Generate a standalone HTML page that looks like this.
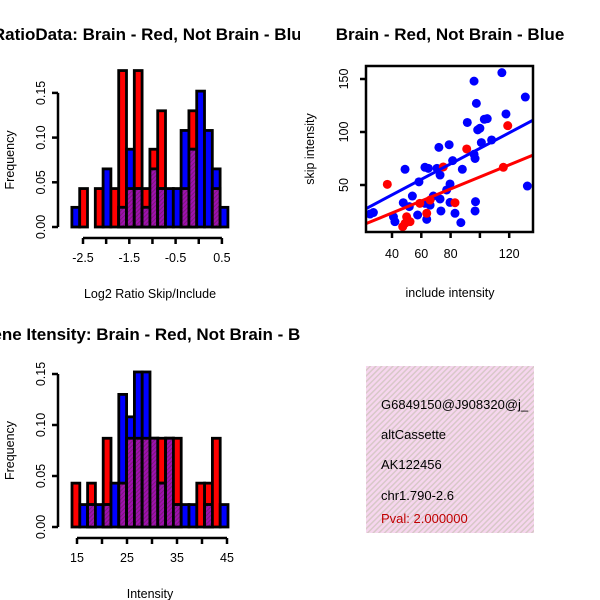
<!DOCTYPE html>
<html><head><meta charset="utf-8"><style>
html,body{margin:0;padding:0;background:#fff;}
svg{display:block;font-family:"Liberation Sans",sans-serif;}
</style></head><body>
<svg id="c" width="600" height="600" viewBox="0 0 600 600">
<defs>
<pattern id="hatch" patternUnits="userSpaceOnUse" width="4" height="4" patternTransform="rotate(45)">
<rect width="4" height="4" fill="#f6d6ee"/><rect width="1.5" height="4" fill="#d8c8c8"/></pattern>
<pattern id="ph" patternUnits="userSpaceOnUse" width="3" height="3" patternTransform="rotate(45)">
<rect width="3" height="3" fill="#a010b0"/><rect width="1" height="3" fill="#7a1a7a"/></pattern>
<clipPath id="cl"><rect x="0" y="0" width="300" height="600"/></clipPath>
<clipPath id="cs"><rect x="366" y="66" width="167" height="166"/></clipPath>
<clipPath id="cb"><rect x="366" y="366" width="168" height="167"/></clipPath>
</defs>
<g id="g1" clip-path="url(#cl)"></g>
<g id="g2"></g>
<g id="g3" clip-path="url(#cl)"></g>
<g id="g4"></g>
</svg>
<script>
// Top-left histogram (log2 ratio)
const ratioBinStart = -2.74, ratioBinWidth = 0.1685;
const ratioRed  = [0,0.043,0,0.043,0,0.043,0.175,0.043,0.175,0.043,0.087,0.13,0,0,0.043,0.13,0,0,0.043,0];
const ratioBlue = [0.022,0,0,0,0.065,0,0.022,0.087,0.043,0.022,0.065,0.043,0.043,0.043,0.108,0.087,0.152,0.108,0.065,0.022];
const ratioXTicks = [-2.5,-2,-1.5,-1,-0.5,0,0.5];
const ratioXLabels = ["-2.5","","-1.5","","-0.5","","0.5"];
const freqTicks = [0,0.05,0.10,0.15];
const freqLabels = ["0.00","0.05","0.10","0.15"];
// Bottom-left histogram (intensity)
const intBinStart = 14, intBinWidth = 1.56;
const intRed  = [0.043,0,0.043,0,0.087,0,0.043,0.087,0.087,0.087,0.087,0.087,0.087,0.087,0,0,0.043,0.043,0.087,0];
const intBlue = [0,0.022,0.022,0.022,0.022,0.043,0.13,0.108,0.152,0.152,0.087,0.043,0.087,0.022,0.022,0.022,0,0.022,0,0.022];
const intXTicks = [15,20,25,30,35,40,45];
const intXLabels = ["15","","25","","35","","45"];
// Scatter
const blueX = [115,96,131,97.6,117.8,91.4,103,105,98.5,100,79,72,101,108,96,96.7,81.4,48.9,62.5,64.8,70.7,72.8,88,58.4,79.6,77.3,53.9,47.7,68.2,72.8,66,79.6,97,96.7,132.4,27.3,25,41,42,57.5,63.7,83,87,73.4,51.8,62.5];
const blueY = [156,148,133,127,117,109,112,112.6,102,103.5,88,85.5,90,92.5,79,75,73,64.8,66.7,65.7,65.7,59.4,64.8,53,51,45.3,39.6,33.3,39.6,36.8,31,33.6,34.3,25.5,49,24,22.6,20,15.4,21.7,17.6,23.3,14.5,25.5,29.6,32.7];
const redX = [119,91,75,36.8,116,83,48.9,50,52.3,63.7,59,66,47.3];
const redY = [106,84,67,50.6,66.7,33.3,13.8,20,15.4,23.3,32.7,35.8,10.7];
const blueFit = [11.4,0.732]; // intercept, slope
const redFit = [0.9,0.567];
const scXTicks = [40,60,80,100,120];
const scXLabels = ["40","60","80","","120"];
const scYTicks = [50,100,150];

const NS="http://www.w3.org/2000/svg";
function mk(parent,tag,attrs,text){const e=document.createElementNS(NS,tag);for(const k in attrs)e.setAttribute(k,attrs[k]);if(text!==undefined)e.textContent=text;parent.appendChild(e);return e;}

function hist(g,binStart,binW,red,blue,xs,ys,xTicks,xLabels,title,xlab,prefix){
  const X=v=>xs.p0+(v-xs.v0)*xs.k, Y=v=>ys.p0-(v)*ys.k;
  for(let i=0;i<red.length;i++){
    const x0=X(binStart+i*binW), x1=X(binStart+(i+1)*binW);
    if(red[i]>0){const r=mk(g,'rect',{x:x0,y:Y(red[i]),width:x1-x0,height:Y(0)-Y(red[i]),fill:'#ff0000',stroke:'#000','stroke-width':2.8});
      
      }
    if(blue[i]>0){const b=mk(g,'rect',{x:x0,y:Y(blue[i]),width:x1-x0,height:Y(0)-Y(blue[i]),fill:'#0000ff',stroke:'#000','stroke-width':2.8});
      
      }
    const m=Math.min(red[i],blue[i]);
    if(m>0){const p=mk(g,'rect',{x:x0,y:Y(m),width:x1-x0,height:Y(0)-Y(m),fill:'url(#ph)',stroke:'#000','stroke-width':2.8});
      
      }
  }
  const ya=mk(g,'g',{});
  
  
  const ax=58;
  mk(ya,'line',{x1:ax,x2:ax,y1:Y(freqTicks[0]),y2:Y(freqTicks[freqTicks.length-1]),stroke:'#000','stroke-width':2.5});
  freqTicks.forEach((t,i)=>{mk(ya,'line',{x1:ax-6,x2:ax,y1:Y(t),y2:Y(t),stroke:'#000','stroke-width':2.5});
    mk(ya,'text',{x:0,y:0,'font-size':12.5,'text-anchor':'middle',transform:`translate(${ax-13},${Y(t)}) rotate(-90)`},freqLabels[i]);});
  const yl=mk(g,'text',{x:0,y:0,'font-size':12.5,'text-anchor':'middle',transform:`translate(14,${(Y(0)+Y(0.15))/2}) rotate(-90)`},'Frequency');
  
  
  const xa=mk(g,'g',{});
  
  
  const ay=ys.p0+11;
  mk(xa,'line',{x1:X(xTicks[0]),x2:X(xTicks[xTicks.length-1]),y1:ay,y2:ay,stroke:'#000','stroke-width':2.5});
  xTicks.forEach((t,i)=>{mk(xa,'line',{x1:X(t),x2:X(t),y1:ay,y2:ay+6,stroke:'#000','stroke-width':2.5});
    if(xLabels[i])mk(xa,'text',{x:X(t),y:ay+24,'font-size':12.5,'text-anchor':'middle'},xLabels[i]);});
  const xl=mk(g,'text',{x:150,y:ys.p0+71,'font-size':12.5,'text-anchor':'middle'},xlab);
  
  
  const tt=mk(g,'text',{x:152,y:ys.p0-187,'font-size':17,'font-weight':'bold','text-anchor':'middle'},title);
  
  
}
const g1=document.getElementById('g1');


hist(g1,ratioBinStart,ratioBinWidth,ratioRed,ratioBlue,{p0:83,v0:-2.5,k:46.3},{p0:227,k:894},ratioXTicks,ratioXLabels,'RatioData: Brain - Red, Not Brain - Blue','Log2 Ratio Skip/Include','ratio');
const g3=document.getElementById('g3');


hist(g3,intBinStart,intBinWidth,intRed,intBlue,{p0:77,v0:15,k:5},{p0:527,k:1020},intXTicks,intXLabels,'Gene Itensity: Brain - Red, Not Brain - Blue','Intensity','intensity');

const g2=document.getElementById('g2');


const SX=v=>392+(v-40)*1.465, SY=v=>185-(v-50)*1.06;
const pts=mk(g2,'g',{'clip-path':'url(#cs)'});
blueX.forEach((x,i)=>{const c=mk(pts,'circle',{cx:SX(x),cy:SY(blueY[i]),r:4.5,fill:'#0000ff'});
  
  });
redX.forEach((x,i)=>{const c=mk(pts,'circle',{cx:SX(x),cy:SY(redY[i]),r:4.5,fill:'#ff0000'});
  
  });
const xmin=20,xmax=140;
const bl=mk(pts,'line',{x1:SX(xmin),y1:SY(blueFit[0]+blueFit[1]*xmin),x2:SX(xmax),y2:SY(blueFit[0]+blueFit[1]*xmax),stroke:'#0000ff','stroke-width':3});


const rl=mk(pts,'line',{x1:SX(xmin),y1:SY(redFit[0]+redFit[1]*xmin),x2:SX(xmax),y2:SY(redFit[0]+redFit[1]*xmax),stroke:'#ff0000','stroke-width':3});


const box=mk(g2,'rect',{x:366,y:66,width:167,height:166,fill:'none',stroke:'#000','stroke-width':2.5});


scXTicks.forEach((t,i)=>{mk(g2,'line',{x1:SX(t),x2:SX(t),y1:232,y2:238,stroke:'#000','stroke-width':2.5});
  if(scXLabels[i]){const l=mk(g2,'text',{x:SX(t),y:258,'font-size':12.5,'text-anchor':'middle'},scXLabels[i]);
  
  }});
scYTicks.forEach(t=>{mk(g2,'line',{x1:360,x2:366,y1:SY(t),y2:SY(t),stroke:'#000','stroke-width':2.5});
  const l=mk(g2,'text',{x:0,y:0,'font-size':12.5,'text-anchor':'middle',transform:`translate(348,${SY(t)}) rotate(-90)`},String(t));
  
  });
const sxl=mk(g2,'text',{x:450,y:297,'font-size':12.5,'text-anchor':'middle'},'include intensity');


const syl=mk(g2,'text',{x:0,y:0,'font-size':12.5,'text-anchor':'middle',transform:'translate(314,149) rotate(-90)'},'skip intensity');


const st=mk(g2,'text',{x:450,y:40,'font-size':17,'font-weight':'bold','text-anchor':'middle'},'Brain - Red, Not Brain - Blue');



const g4=document.getElementById('g4');


const ib=mk(g4,'g',{'clip-path':'url(#cb)'});
mk(ib,'rect',{x:366,y:366,width:168,height:167,fill:'url(#hatch)'});
const lines=[['G6849150@J908320@j_',409,'#000','event-id'],['altCassette',439,'#000','event-type'],['AK122456',469,'#000','accession'],['chr1.790-2.6',500,'#000','location'],['Pval: 2.000000',523,'#c00000','p-value']];
lines.forEach(l=>{const t=mk(ib,'text',{x:381,y:l[1],'font-size':13,fill:l[2]},l[0]);
  
  });
</script>
</body></html>
